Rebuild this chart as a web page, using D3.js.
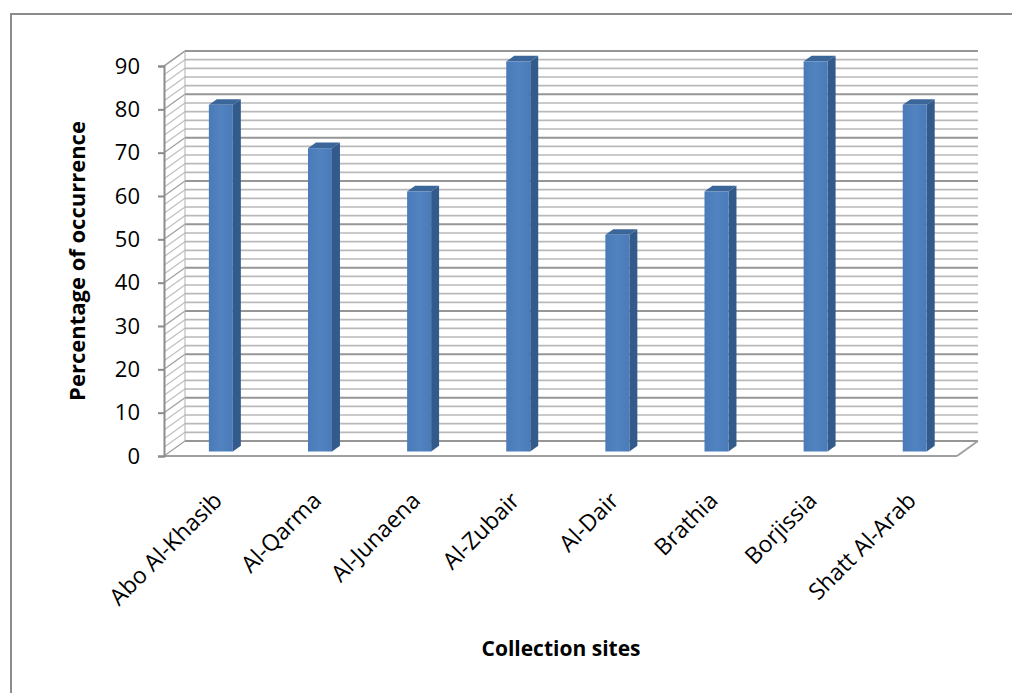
<!DOCTYPE html>
<html>
<head>
<meta charset="utf-8">
<script src="https://cdn.jsdelivr.net/npm/d3@7"></script>
<style>
  html, body { margin: 0; padding: 0; background: #fff; }
  svg { display: block; }
  text { font-family: "Open Sans", "Liberation Sans", sans-serif; fill: #000; }
</style>
</head>
<body>
<svg id="chart" width="1012" height="693"></svg>
<script>
const categories = ["Abo Al-Khasib", "Al-Qarma", "Al-Junaena", "Al-Zubair", "Al-Dair", "Brathia", "Borjissia", "Shatt Al-Arab"];
const values = [80, 70, 60, 90, 50, 60, 90, 80];
const yTicks = [0, 10, 20, 30, 40, 50, 60, 70, 80, 90];
const yTitle = "Percentage of occurrence";
const xTitle = "Collection sites";

const svg = d3.select("#chart");
const W = 1012, H = 693;

// frame
svg.append("rect").attr("x", 11).attr("y", 14).attr("width", W + 20).attr("height", H + 20)
  .attr("fill", "none").attr("stroke", "#8c8c8c").attr("stroke-width", 2);

const x0 = 164, x1 = 957;
const y = d3.scaleLinear().domain([0, 90]).range([456, 66]);
const x = d3.scaleBand().domain(categories).range([x0, x1]).paddingInner(0).paddingOuter(0);
const DX = 21, DY = -15;
const proj = (px, py, d) => [px + DX * d, py + DY * d];

const g = svg.append("g");

// back wall and side wall gridlines
const minor = d3.range(0, 91, 2);
minor.forEach(v => {
  const major = v % 10 === 0;
  const yy = y(v);
  const a = proj(x0, yy, 1), b = proj(x1, yy, 1);
  g.append("line").attr("x1", a[0]).attr("y1", a[1]).attr("x2", b[0]).attr("y2", b[1])
    .attr("stroke", major ? "#969696" : "#b9b9b9").attr("stroke-width", major ? 2 : 1.6);
  // side wall diagonal
  g.append("line").attr("x1", x0).attr("y1", yy).attr("x2", a[0]).attr("y2", a[1])
    .attr("stroke", major ? "#a0a0a0" : "#c0c0c0").attr("stroke-width", 1.3);
});
// back wall left edge
{
  const a = proj(x0, y(0), 1), b = proj(x0, y(90), 1);
  g.append("line").attr("x1", a[0]).attr("y1", a[1]).attr("x2", b[0]).attr("y2", b[1])
    .attr("stroke", "#b0b0b0").attr("stroke-width", 1);
}
// floor outline
{
  const fr = proj(x1, y(0), 1);
  g.append("line").attr("x1", x0).attr("y1", y(0)).attr("x2", x1).attr("y2", y(0))
    .attr("stroke", "#a0a0a0").attr("stroke-width", 2);
  g.append("line").attr("x1", x1).attr("y1", y(0)).attr("x2", fr[0]).attr("y2", fr[1])
    .attr("stroke", "#a0a0a0").attr("stroke-width", 2);
  const tl = proj(x0, y(90), 1);
  g.append("line").attr("x1", x0).attr("y1", y(90)).attr("x2", tl[0]).attr("y2", tl[1])
    .attr("stroke", "#a0a0a0").attr("stroke-width", 1.5);
}

// y axis (front left edge)
const yAxis = d3.axisLeft(y).tickValues(yTicks).tickSize(6).tickPadding(18);
const ya = svg.append("g").attr("transform", `translate(${x0},0)`).call(yAxis);
ya.select(".domain").attr("stroke", "#8c8c8c").attr("stroke-width", 2);
ya.selectAll(".tick line").attr("stroke", "#8c8c8c").attr("stroke-width", 2);
ya.selectAll(".tick text").style("font-size", "22px").style("font-family", "'Open Sans', sans-serif").attr("fill", "#000");

// gradient for bar fronts
const defs = svg.append("defs");
const grad = defs.append("linearGradient").attr("id", "front").attr("x1", 0).attr("x2", 1).attr("y1", 0).attr("y2", 0);
grad.append("stop").attr("offset", "0%").attr("stop-color", "#4a7bb8");
grad.append("stop").attr("offset", "50%").attr("stop-color", "#5183c0");
grad.append("stop").attr("offset", "100%").attr("stop-color", "#4a7bb8");

// bars
const d1 = 0.3, d2 = 0.68, halfW = 12;
const bars = svg.append("g");
categories.forEach((c, i) => {
  const cx = x(c) + x.bandwidth() / 2 + 1;
  const xl = cx - halfW, xr = cx + halfW;
  const yt = y(values[i]), yb = y(0);
  const pts = arr => arr.map(p => p.join(",")).join(" ");
  // side
  bars.append("polygon").attr("points", pts([proj(xr, yt, d1), proj(xr, yt, d2), proj(xr, yb, d2), proj(xr, yb, d1)]))
    .attr("fill", "#325a8a");
  // top
  bars.append("polygon").attr("points", pts([proj(xl, yt, d1), proj(xr, yt, d1), proj(xr, yt, d2), proj(xl, yt, d2)]))
    .attr("fill", "#3b6699");
  // front
  const f0 = proj(xl, yt, d1), f1 = proj(xr, yb, d1);
  bars.append("rect").attr("x", f0[0]).attr("y", f0[1]).attr("width", f1[0] - f0[0]).attr("height", f1[1] - f0[1])
    .attr("fill", "url(#front)");
});

// category labels
const labels = svg.append("g");
categories.forEach(c => {
  const ax = x(c) + x.bandwidth() / 2 + 10, ay = 502;
  labels.append("text").attr("transform", `translate(${ax},${ay}) rotate(-45)`)
    .attr("text-anchor", "end").style("font-size", "23px").text(c);
});

// titles
svg.append("text").attr("transform", "translate(85,261) rotate(-90)").attr("text-anchor", "middle")
  .style("font-size", "22px").style("font-weight", "bold").text(yTitle);
svg.append("text").attr("x", 561).attr("y", 656).attr("text-anchor", "middle")
  .style("font-size", "21px").style("font-weight", "bold").text(xTitle);
</script>
</body>
</html>
